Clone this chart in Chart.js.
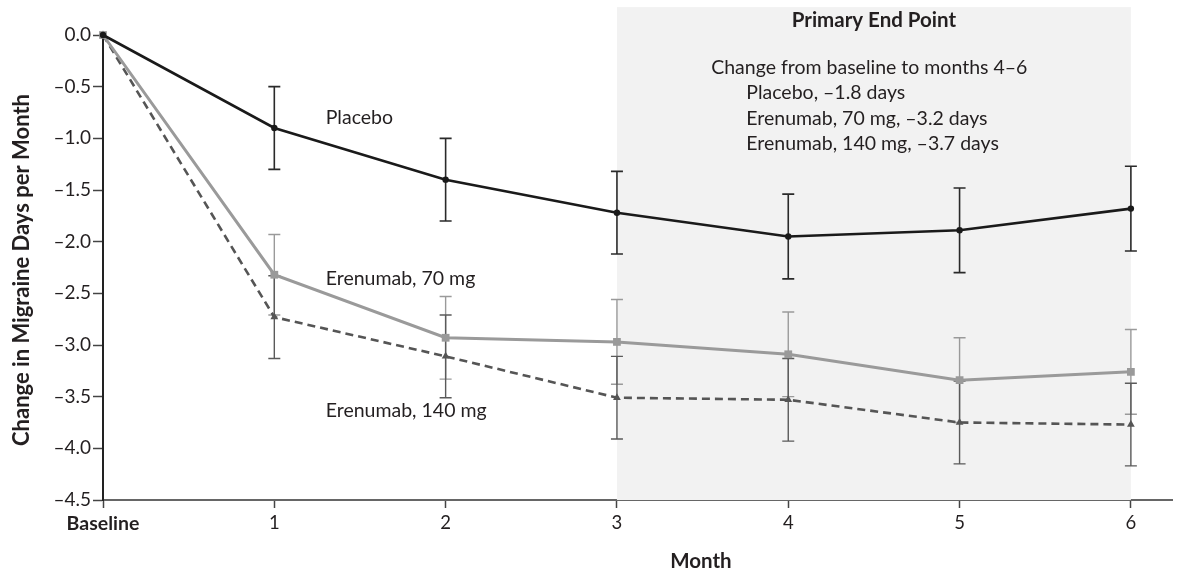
<!DOCTYPE html>
<html><head><meta charset="utf-8">
<script src="https://cdn.jsdelivr.net/npm/chart.js@4.4.1/dist/chart.umd.min.js"></script>
<style>html,body{margin:0;padding:0;background:#fff}#wrap{width:1190px;height:574px}</style>
</head><body><div id="wrap"><canvas id="c" width="1190" height="574"></canvas></div>
<script>
const months = [0, 1, 2, 3, 4, 5, 6];
const xTickLabels = ['Baseline', '1', '2', '3', '4', '5', '6'];
const placebo = [0, -0.90, -1.40, -1.72, -1.95, -1.89, -1.68];
const placeboErr = [null, 0.40, 0.40, 0.40, 0.41, 0.41, 0.41];
const erenumab70 = [0, -2.32, -2.93, -2.97, -3.09, -3.34, -3.26];
const erenumab70Err = [null, 0.39, 0.40, 0.41, 0.41, 0.41, 0.41];
const erenumab140 = [0, -2.73, -3.11, -3.51, -3.53, -3.75, -3.77];
const erenumab140Err = [null, 0.40, 0.40, 0.40, 0.40, 0.40, 0.40];
const seriesNames = ['Placebo', 'Erenumab, 70 mg', 'Erenumab, 140 mg'];
const endPointTitle = 'Primary End Point';
const endPointLines = ['Change from baseline to months 4\u20136', 'Placebo, \u20131.8 days', 'Erenumab, 70 mg, \u20133.2 days', 'Erenumab, 140 mg, \u20133.7 days'];
const yAxisTitle = 'Change in Migraine Days per Month';
const xAxisTitle = 'Month';

const FONT = 'Lato, "Open Sans", sans-serif';
const TXT = '#231f20';

function pts(vals){ return months.map((m,i)=>({x:m,y:vals[i]})); }

const shadePlugin = {
  id:'shade',
  beforeDatasetsDraw(chart){
    const {ctx, scales:{x,y}} = chart;
    const x0 = x.getPixelForValue(3), x1 = x.getPixelForValue(6);
    const yt = y.getPixelForValue(0.27), yb = y.getPixelForValue(-4.5);
    ctx.save();
    ctx.fillStyle = '#f2f2f2';
    ctx.fillRect(x0, yt, x1-x0, yb-yt);
    ctx.restore();
  }
};

const errPlugin = {
  id:'errbars',
  beforeDatasetsDraw(chart){
    const {ctx, scales:{x,y}} = chart;
    const errs = [placeboErr, erenumab70Err, erenumab140Err];
    const cols = ['#2a2a2a', '#9a9a9a', '#5a5a5a'];
    const widths = [1.6, 1.4, 1.4];
    ctx.save();
    chart.data.datasets.forEach((ds, di) => {
      ds.data.forEach((p, i) => {
        const e = errs[di][i];
        if (e == null) return;
        const px = x.getPixelForValue(p.x);
        const yTop = y.getPixelForValue(p.y + e), yBot = y.getPixelForValue(p.y - e);
        ctx.strokeStyle = cols[di]; ctx.lineWidth = widths[di];
        ctx.beginPath();
        ctx.moveTo(px, yTop); ctx.lineTo(px, yBot);
        ctx.moveTo(px-6, yTop); ctx.lineTo(px+6, yTop);
        ctx.moveTo(px-6, yBot); ctx.lineTo(px+6, yBot);
        ctx.stroke();
      });
    });
    ctx.restore();
  }
};

const textPlugin = {
  id:'texts',
  afterDraw(chart){
    const {ctx, scales:{x,y}, chartArea} = chart;
    ctx.save();
    ctx.fillStyle = TXT;
    ctx.textBaseline = 'middle';
    const cx = (x.getPixelForValue(3) + x.getPixelForValue(6)) / 2;
    ctx.font = 'bold 20.5px ' + FONT;
    ctx.textAlign = 'center';
    ctx.fillText(endPointTitle, cx, y.getPixelForValue(0.145));
    ctx.font = '19.5px ' + FONT;
    ctx.textAlign = 'left';
    ctx.fillText(endPointLines[0], x.getPixelForValue(3.55), y.getPixelForValue(-0.32));
    ctx.fillText(endPointLines[1], x.getPixelForValue(3.755), y.getPixelForValue(-0.56));
    ctx.fillText(endPointLines[2], x.getPixelForValue(3.755), y.getPixelForValue(-0.81));
    ctx.fillText(endPointLines[3], x.getPixelForValue(3.755), y.getPixelForValue(-1.055));
    const lx = x.getPixelForValue(1.3);
    ctx.fillText(seriesNames[0], lx, y.getPixelForValue(-0.80));
    ctx.fillText(seriesNames[1], lx, y.getPixelForValue(-2.355));
    ctx.fillText(seriesNames[2], lx, y.getPixelForValue(-3.64));
    ctx.font = 'bold 20.5px ' + FONT;
    ctx.textAlign = 'center';
    ctx.fillText(xAxisTitle, x.getPixelForValue(3.49), 561);
    ctx.translate(22, 270);
    ctx.rotate(-Math.PI/2);
    ctx.font = 'bold 22px ' + FONT;
    ctx.fillText(yAxisTitle, 0, 0);
    ctx.restore();
  }
};

new Chart(document.getElementById('c'), {
  type:'line',
  data:{
    datasets:[
      {label:seriesNames[0], data:pts(placebo), borderColor:'#1a1a1a', backgroundColor:'#1a1a1a', borderWidth:2.6, pointStyle:'circle', pointRadius:3.2, pointBorderWidth:0, clip:false},
      {label:seriesNames[1], data:pts(erenumab70), borderColor:'#9a9a9a', backgroundColor:'#9a9a9a', borderWidth:3, pointStyle:'rect', pointRadius:5.5, pointBorderWidth:0, clip:false},
      {label:seriesNames[2], data:pts(erenumab140), borderColor:'#555', backgroundColor:'#555', borderWidth:2.6, borderDash:[8,5], pointStyle:'triangle', pointRadius:4.5, pointBorderWidth:0, clip:false}
    ]
  },
  options:{
    responsive:false, animation:false,
    layout:{padding:{top:35, right:18, left:0, bottom:0}},
    plugins:{legend:{display:false}, tooltip:{enabled:false}},
    scales:{
      x:{type:'linear', min:0, max:6.24,
        afterBuildTicks(s){ s.ticks = months.map(v=>({value:v})); },
        afterFit(s){ s.height = 74; },
        ticks:{autoSkip:false, maxRotation:0, padding:4, color:TXT,
          font:(c)=>({family:FONT, size: c.index===0 ? 19.5 : 18.5, weight: c.index===0 ? 'bold':'normal'}),
          callback:(v)=>xTickLabels[months.indexOf(v)]},
        grid:{drawOnChartArea:false, drawTicks:true, tickLength:8, tickColor:'#444', tickWidth:1.5},
        border:{display:true, color:'#666', width:2}
      },
      y:{type:'linear', min:-4.5, max:0,
        afterFit(s){ s.width = 103; },
        ticks:{stepSize:0.5, padding:2, color:TXT, font:{family:FONT, size:19},
          callback:(v)=> (v===0 ? '0.0' : '\u2013' + Math.abs(v).toFixed(1))},
        grid:{drawOnChartArea:false, drawTicks:true, tickLength:10, tickColor:'#444', tickWidth:1.5},
        border:{display:true, color:'#222', width:2}
      }
    }
  },
  plugins:[shadePlugin, errPlugin, textPlugin]
});
</script></body></html>
